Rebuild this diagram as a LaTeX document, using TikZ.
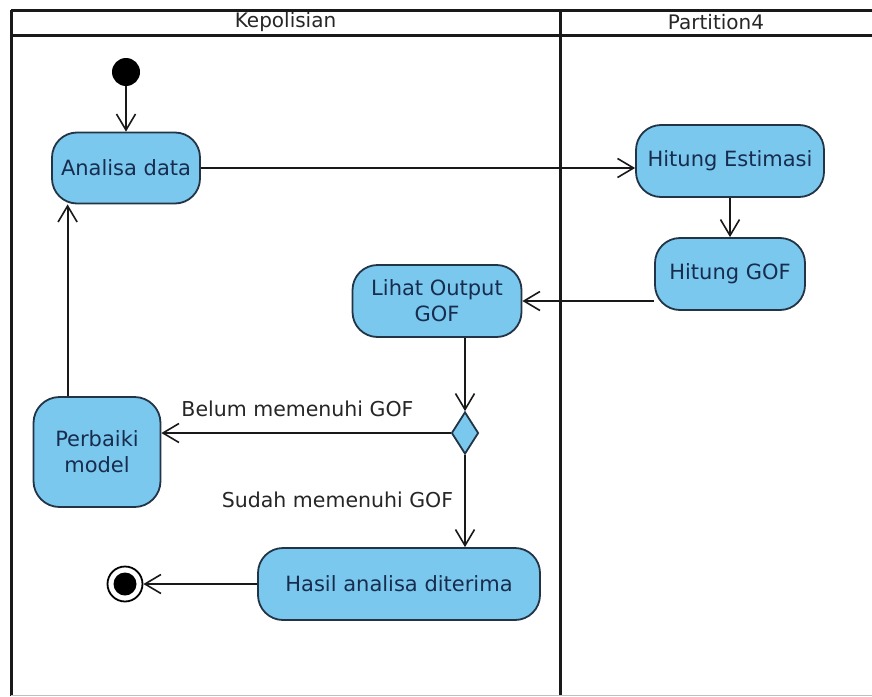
\documentclass[tikz,border=0pt]{standalone}
\usepackage{fontspec}
\setmainfont{DejaVu Sans}
\usetikzlibrary{arrows.meta,shapes.geometric}

\definecolor{actfill}{RGB}{122,200,238}
\definecolor{actborder}{RGB}{34,52,70}
\definecolor{acttext}{RGB}{24,44,78}
\definecolor{flowline}{RGB}{25,25,25}

\begin{document}
\begin{tikzpicture}[x=1pt,y=-1pt,
  act/.style={draw=actborder, fill=actfill, line width=1.8pt, rounded corners=25pt,
    text=acttext, font=\fontsize{21}{26}\selectfont, align=center, inner sep=0pt},
  decision/.style={diamond, draw=actborder, fill=actfill, line width=1.8pt, inner sep=0pt,
    minimum width=27pt, minimum height=42pt},
  flow/.style={draw=flowline, line width=1.9pt,
    -{Straight Barb[length=16pt,width=19pt,line width=1.6pt]}},
  guard/.style={text=black!85, font=\fontsize{20.5}{24}\selectfont, inner sep=0pt},
  lanetitle/.style={text=black!85, font=\fontsize{20}{24}\selectfont, inner sep=0pt},
  laneline/.style={draw=black!90, line width=3pt}
]
\useasboundingbox (0,0) rectangle (872,696);
\fill[white] (0,0) rectangle (872,696);

% swimlane frame
\draw[laneline] (11,10) -- (872,10);
\draw[laneline] (11,35) -- (872,35);
\draw[laneline] (11,10) -- (11,696);
\draw[laneline] (560,10) -- (560,696);
\draw[black!25, line width=1pt] (11,695) -- (872,695);
\node[lanetitle] (laneA) at (285.5,22) {Kepolisian};
\node[lanetitle] (laneB) at (716,22) {Partition4};

% start and end
\node[circle, fill=black, minimum size=28pt, inner sep=0pt] (init) at (126,72) {};
\node[circle, draw=black, fill=white, line width=1.8pt, minimum size=35pt, inner sep=0pt,
  path picture={\fill[black] (path picture bounding box.center) circle (11.5pt);}] (final) at (125,584) {};

% activities
\node[act, minimum width=188pt, minimum height=72pt] (hest) at (730,161) {Hitung Estimasi};
\node[act, minimum width=148pt, minimum height=71pt] (analisa) at (126,168) {Analisa data};
\node[act, minimum width=150pt, minimum height=72pt] (hgof) at (730,274) {Hitung GOF};
\node[act, minimum width=169pt, minimum height=72pt] (lihat) at (437,301) {Lihat Output\\GOF};
\node[act, minimum width=127pt, minimum height=110pt, rounded corners=26pt] (perbaiki) at (97,452) {Perbaiki\\model};
\node[act, minimum width=282pt, minimum height=72pt] (hasil) at (399,584) {Hasil analisa diterima};
\node[decision] (dec) at (465,433) {};

% guards
\node[guard] (gBelum) at (297.5,409) {Belum memenuhi GOF};
\node[guard] (gSudah) at (337.5,500) {Sudah memenuhi GOF};

% control flows
\draw[flow] (init.south) -- (analisa.north);
\draw[flow] (analisa.east) -- (analisa.east -| hest.west);
\draw[flow] (hest.south) -- (hgof.north);
\draw[flow] (hgof.west |- lihat.east) -- (lihat.east);
\draw[flow] (dec.north |- lihat.south) -- (dec.north);
\draw[flow] (dec.west) -- (dec.west -| perbaiki.east);
\draw[flow] ([xshift=35pt]perbaiki.north west) -- ([xshift=35pt]perbaiki.north west |- analisa.south);
\draw[flow] (dec.south) -- (dec.south |- hasil.north);
\draw[flow] (hasil.west) -- (final.east);
\end{tikzpicture}
\end{document}
